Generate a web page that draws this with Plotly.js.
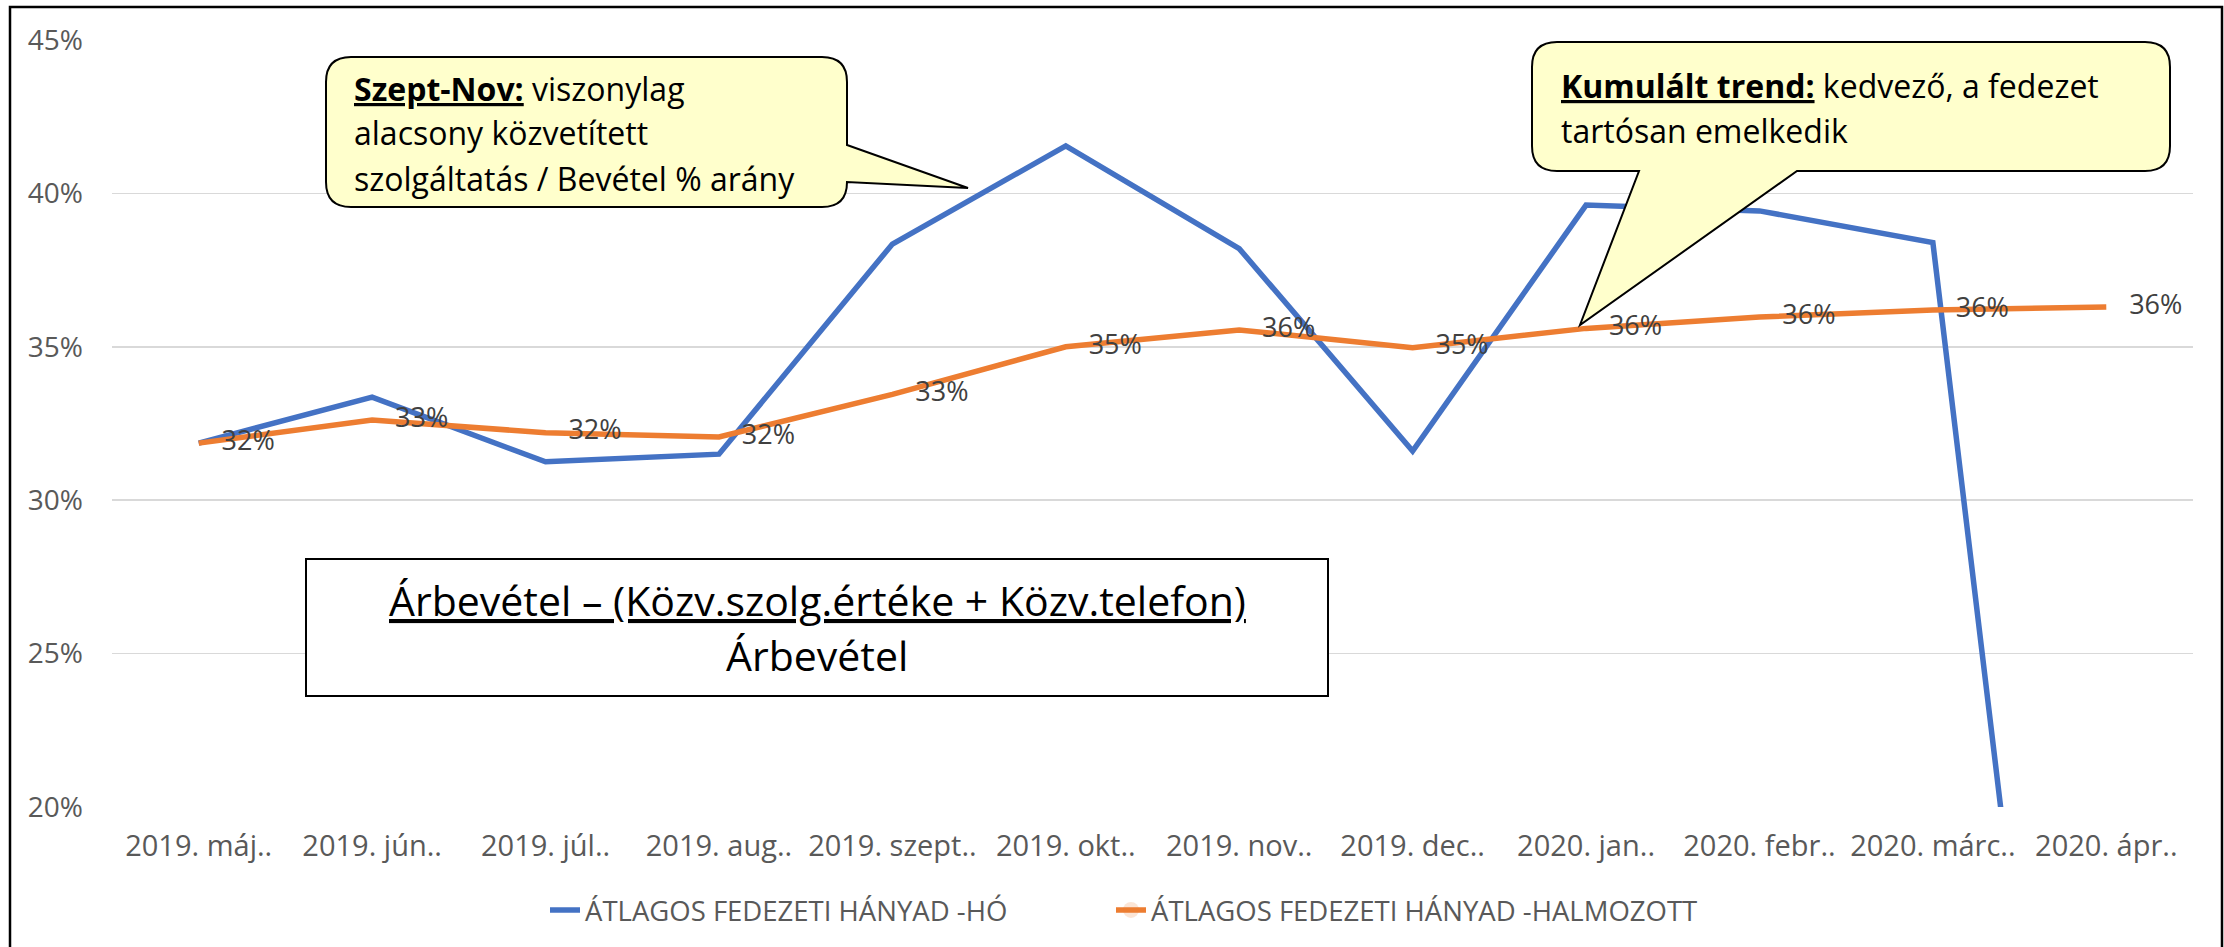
<!DOCTYPE html>
<html>
<head>
<meta charset="utf-8">
<script src="https://cdn.plot.ly/plotly-3.0.1.min.js"></script>
<style>
html,body{margin:0;padding:0;background:#fff;overflow:hidden;}
#chart{width:2224px;height:947px;}
</style>
</head>
<body>
<div id="chart"></div>
<script>
// ---- data ----
const categories = ["2019. máj..","2019. jún..","2019. júl..","2019. aug..","2019. szept..","2019. okt..","2019. nov..","2019. dec..","2020. jan..","2020. febr..","2020. márc..","2020. ápr.."];
const monthlyName = "ÁTLAGOS FEDEZETI HÁNYAD -HÓ";
const cumulativeName = "ÁTLAGOS FEDEZETI HÁNYAD -HALMOZOTT";
const monthly = [0.3186,0.3336,0.3125,0.3150,0.3835,0.4155,0.3820,0.3160,0.3962,0.3943,0.3840,-0.087];
const cumulative = [0.3186,0.3261,0.3220,0.3206,0.3345,0.3500,0.3555,0.3497,0.3560,0.3597,0.3620,0.3630];
const yTicks = [0.20,0.25,0.30,0.35,0.40,0.45];

// ---- layout helpers (pixel -> paper) ----
const W = 2224, H = 947;
const M = {l:112, r:31, t:40, b:140};
const PW = W - M.l - M.r, PH = H - M.t - M.b;
const px = x => (x - M.l) / PW;
const py = y => (H - M.b - y) / PH;
function path(points){
  return points.map(p=>{
    if(p[0]==='Q') return 'Q'+px(p[1])+','+py(p[2])+' '+px(p[3])+','+py(p[4]);
    if(p[0]==='Z') return 'Z';
    return p[0]+px(p[1])+','+py(p[2]);
  }).join(' ');
}
const FONT = "'Open Sans', 'Noto Sans', sans-serif";

const callout1 = path([
  ['M',351,57],['L',822,57],['Q',847,57,847,82],['L',847,145],['L',968,188],['L',847,182],
  ['Q',847,207,822,207],['L',351,207],['Q',326,207,326,182],['L',326,82],['Q',326,57,351,57],['Z']
]);
const callout2 = path([
  ['M',1557,42],['L',2145,42],['Q',2170,42,2170,67],['L',2170,146],['Q',2170,171,2145,171],
  ['L',1797,171],['L',1580,325],['L',1639,171],['L',1557,171],['Q',1532,171,1532,146],
  ['L',1532,67],['Q',1532,42,1557,42],['Z']
]);

const traces = [
  {x:categories, y:monthly, name:monthlyName, type:'scatter', mode:'lines', legend:'legend',
   line:{color:'#4472C4', width:5.5}, hoverinfo:'skip'},
  {x:categories, y:cumulative, name:cumulativeName, type:'scatter', mode:'lines+markers+text', legend:'legend2',
   line:{color:'#ED7D31', width:5.5}, marker:{size:35, opacity:0, color:'#ED7D31'},
   texttemplate:'%{y:.0%}', textposition:'middle right',
   textfont:{family:FONT, size:27, color:'#404040'}, hoverinfo:'skip', cliponaxis:false}
];

function ann(x,y,text,opts){
  return Object.assign({xref:'paper', yref:'paper', x:px(x), y:py(y), text:text, showarrow:false,
    xanchor:'left', yanchor:'middle', align:'left',
    font:{family:FONT, size:32, color:'#000'}}, opts||{});
}
const legendBase = {orientation:'h', xanchor:'left', y:py(910), yanchor:'middle',
    font:{family:FONT, size:27.5, color:'#595959'}, bgcolor:'rgba(0,0,0,0)'};

const layout = {
  width:W, height:H, margin:M, autosize:false,
  paper_bgcolor:'#fff', plot_bgcolor:'#fff',
  font:{family:FONT, size:27, color:'#595959'},
  showlegend:true,
  legend:Object.assign({x:px(545)}, legendBase),
  legend2:Object.assign({x:px(1111)}, legendBase),
  xaxis:{type:'category', range:[-0.5, categories.length-0.5], showgrid:false, zeroline:false,
    showline:false, ticks:'', ticklabelstandoff:19, tickfont:{family:FONT,size:29,color:'#595959'},
    fixedrange:true},
  yaxis:{range:[0.2,0.45], tickvals:yTicks, tickformat:'.0%', showgrid:true, gridcolor:'#D9D9D9',
    gridwidth:1.5, zeroline:false, showline:false, ticks:'', ticklabelstandoff:28,
    tickfont:{family:FONT,size:28,color:'#595959'}, fixedrange:true},
  shapes:[
    {type:'path', xref:'paper', yref:'paper', path:callout1, fillcolor:'#FFFFCC', line:{color:'#000',width:2}, layer:'above'},
    {type:'path', xref:'paper', yref:'paper', path:callout2, fillcolor:'#FFFFCC', line:{color:'#000',width:2}, layer:'above'},
    {type:'rect', xref:'paper', yref:'paper', x0:px(306), x1:px(1328), y0:py(696), y1:py(559),
     fillcolor:'#fff', line:{color:'#000',width:2}, layer:'above'},
    {type:'rect', xref:'paper', yref:'paper', x0:px(10), x1:px(2222), y0:py(990), y1:py(7),
     fillcolor:'rgba(0,0,0,0)', line:{color:'#000',width:2.5}, layer:'above'}
  ],
  annotations:[
    ann(352,88,'<b><u>Szept-Nov:</u></b> viszonylag'),
    ann(352,133,'alacsony közvetített'),
    ann(352,178,'szolgáltatás / Bevétel % arány'),
    ann(1559,85,'<b><u>Kumulált trend:</u></b> kedvező, a fedezet'),
    ann(1559,130,'tartósan emelkedik'),
    ann(817,600,'<u>Árbevétel – (Közv.szolg.értéke + Közv.telefon)</u>',{xanchor:'center',align:'center',font:{family:FONT,size:41,color:'#000'}}),
    ann(817,655,'Árbevétel',{xanchor:'center',align:'center',font:{family:FONT,size:41,color:'#000'}})
  ]
};

Plotly.newPlot('chart', traces, layout, {staticPlot:true, displayModeBar:false});
</script>
</body>
</html>
